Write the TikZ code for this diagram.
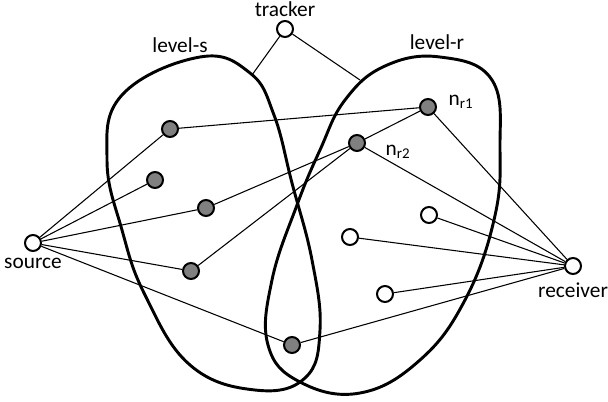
\documentclass[tikz,border=0pt]{standalone}
\usepackage{fontspec}
\setmainfont{Carlito}
\usepackage{tikz}
\usetikzlibrary{calc}

\tikzset{
  peer/.style={circle, draw, line width=1.5pt, fill=gray, minimum size=12pt, inner sep=0pt},
  idle/.style={peer, fill=white},
  link/.style={line width=0.8pt},
  blob/.style={line width=2.2pt}
}

\begin{document}
\begin{tikzpicture}[x=0.75pt, y=-0.75pt, font=\fontsize{16}{19}\selectfont]

        \useasboundingbox (0,0) rectangle (608,401);

        % the two levels
        \draw[blob] plot[smooth cycle, tension=0.7] coordinates {(200,57) (250,73) (274,115) (292,183) (312,260) (320,330) (305,378) (255,390) (190,365) (145,295) (122,230) (107,160) (122,95)};
        \draw[blob] plot[smooth cycle, tension=0.7] coordinates {(440,57) (492,80) (500,150) (494,220) (465,300) (420,360) (360,393) (300,382) (268,345) (272,280) (297,205) (320,150) (345,100) (385,66)};

        \node at (180,45) {level-s};
        \node at (437,42) {level-r};

        \coordinate (sedge) at (252,75);
        \coordinate (redge) at (360,80);

        \node[idle] (tracker) at (285,29) {};
        \node[above=-1pt] at (tracker.north) {tracker};
        \node[idle] (source) at (33,243) {};
        \node[below=1pt] at (source.south) {source};
        \node[idle] (receiver) at (573,266) {};
        \node[below=2pt] at (receiver.south) {receiver};

        \node[peer] (s1) at (170,129) {};
        \node[peer] (s2) at (155,180) {};
        \node[peer] (s3) at (206,208) {};
        \node[peer] (s4) at (191,271) {};
        \node[peer] (s5) at (292,345) {};
        \node[peer] (nr1) at (428,107) {};
        \node[peer] (nr2) at (357,143) {};
        \node[idle] (r1) at (429,215) {};
        \node[idle] (r2) at (350,237) {};
        \node[idle] (r3) at (385,294) {};

        \node at (461,102) {n\textsubscript{r1}};
        \node at (398,152) {n\textsubscript{r2}};

        \draw[link] (tracker) -- (sedge);
        \draw[link] (tracker) -- (redge);

        \foreach \p in {s1,s2,s3,s4,s5}
          \draw[link] (source) -- (\p);

        \draw[link] (s1) -- (nr1);
        \draw[link] (s3) -- (nr2);
        \draw[link] (s4) -- (nr2);
        \draw[link] (nr2) -- (nr1);

        \foreach \p in {nr1,nr2,r1,r2,r3,s5}
          \draw[link] (\p) -- (receiver);

\end{tikzpicture}
\end{document}
